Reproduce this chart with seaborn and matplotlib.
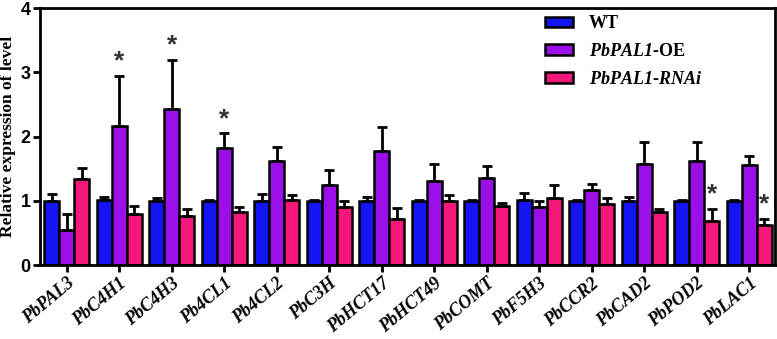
import numpy as np
import pandas as pd
import matplotlib
matplotlib.use("Agg")
import matplotlib.pyplot as plt
import matplotlib.transforms as mtrans
import seaborn as sns
from matplotlib.patches import Patch

genes = ["PbPAL3", "PbC4H1", "PbC4H3", "Pb4CL1", "Pb4CL2", "PbC3H", "PbHCT17",
         "PbHCT49", "PbCOMT", "PbF5H3", "PbCCR2", "PbCAD2", "PbPOD2", "PbLAC1"]
groups = ["WT", "OE", "RNAi"]
wt_mean = [1.00, 1.01, 1.00, 1.00, 1.00, 0.99, 1.00, 1.00, 1.00, 1.01, 1.00, 1.00, 1.00, 1.00]
wt_err = [0.11, 0.05, 0.04, 0.02, 0.10, 0.02, 0.06, 0.02, 0.02, 0.11, 0.02, 0.06, 0.02, 0.02]
oe_mean = [0.55, 2.16, 2.43, 1.83, 1.62, 1.25, 1.78, 1.31, 1.35, 0.91, 1.17, 1.58, 1.62, 1.56]
oe_err = [0.24, 0.78, 0.77, 0.22, 0.22, 0.23, 0.37, 0.26, 0.19, 0.08, 0.10, 0.33, 0.30, 0.14]
rnai_mean = [1.34, 0.79, 0.77, 0.82, 1.01, 0.91, 0.72, 1.00, 0.92, 1.05, 0.95, 0.82, 0.69, 0.62]
rnai_err = [0.17, 0.13, 0.10, 0.08, 0.08, 0.09, 0.17, 0.09, 0.05, 0.19, 0.10, 0.05, 0.19, 0.10]
# significance stars: (gene index, group index)
stars = [(1, 1), (2, 1), (3, 1), (12, 2), (13, 2)]

legend_labels = ["WT", "$\\mathbfit{PbPAL1}$-OE", "$\\mathbfit{PbPAL1}$-$\\mathbfit{RNAi}$"]
colors = ["#1414f5", "#9b0fe8", "#f5177a"]

df = pd.DataFrame({
    "gene": genes * 3,
    "group": ["WT"] * 14 + ["OE"] * 14 + ["RNAi"] * 14,
    "value": wt_mean + oe_mean + rnai_mean,
})
means = [wt_mean, oe_mean, rnai_mean]
errs = [wt_err, oe_err, rnai_err]

plt.rcParams['mathtext.fontset'] = 'custom'
plt.rcParams['mathtext.bfit'] = 'Liberation Serif:bold:italic'
plt.rcParams['mathtext.rm'] = 'Liberation Serif:bold'

fig = plt.figure(figsize=(7.77, 3.39), dpi=100)
ax = fig.add_axes([0.052, 0.218, 0.946, 0.758])
sns.barplot(data=df, x="gene", y="value", hue="group", hue_order=groups,
            palette=colors, width=0.86, errorbar=None, edgecolor="black",
            linewidth=1.8, ax=ax, saturation=1, legend=False)

bar_conts = list(ax.containers)
for gi, cont in enumerate(bar_conts):
    xs = [p.get_x() + p.get_width() / 2 for p in cont.patches]
    ax.errorbar(xs, means[gi], yerr=[np.zeros(len(xs)), errs[gi]], fmt="none",
                ecolor="black", elinewidth=2, capsize=3.5, capthick=2, zorder=1)

for (i, g) in stars:
    p = bar_conts[g].patches[i]
    x = p.get_x() + p.get_width() / 2
    y = means[g][i] + errs[g][i] + 0.04
    ax.text(x, y, "*", ha="center", va="bottom", fontsize=19, fontweight="bold",
            color="#333333", family="Liberation Sans")

ax.set_ylim(0, 4)
ax.set_xlim(-0.5, 13.5)
ax.set_yticks([0, 1, 2, 3, 4])
ax.set_yticklabels(["0", "1", "2", "3", "4"], family="Liberation Sans",
                   fontweight="bold", fontsize=13)
ax.set_xticks(range(14))
ax.set_xticklabels(genes, rotation=40, ha="right", rotation_mode="anchor",
                   family="Liberation Serif", fontweight="bold", style="italic",
                   fontsize=13)
offset = mtrans.ScaledTranslation(6 / 100, -4 / 100, fig.dpi_scale_trans)
for lab in ax.get_xticklabels():
    lab.set_transform(lab.get_transform() + offset)
ax.set_xlabel("")
ax.set_ylabel("Relative expression of level", family="Liberation Serif",
              fontweight="bold", fontsize=12.5, labelpad=3)
for s in ax.spines.values():
    s.set_linewidth(2)
    s.set_color("black")
ax.tick_params(axis="both", width=2, length=5, direction="out", pad=2)

handles = [Patch(facecolor=c, edgecolor="black", linewidth=1.8) for c in colors]
leg = ax.legend(handles, legend_labels, loc="upper left", bbox_to_anchor=(0.665, 1.035),
                frameon=False, handlelength=1.5, handleheight=0.55,
                prop={"family": "Liberation Serif", "weight": "bold", "size": 13},
                labelspacing=0.6, handletextpad=0.9)

fig.savefig("out.png", dpi=100)
